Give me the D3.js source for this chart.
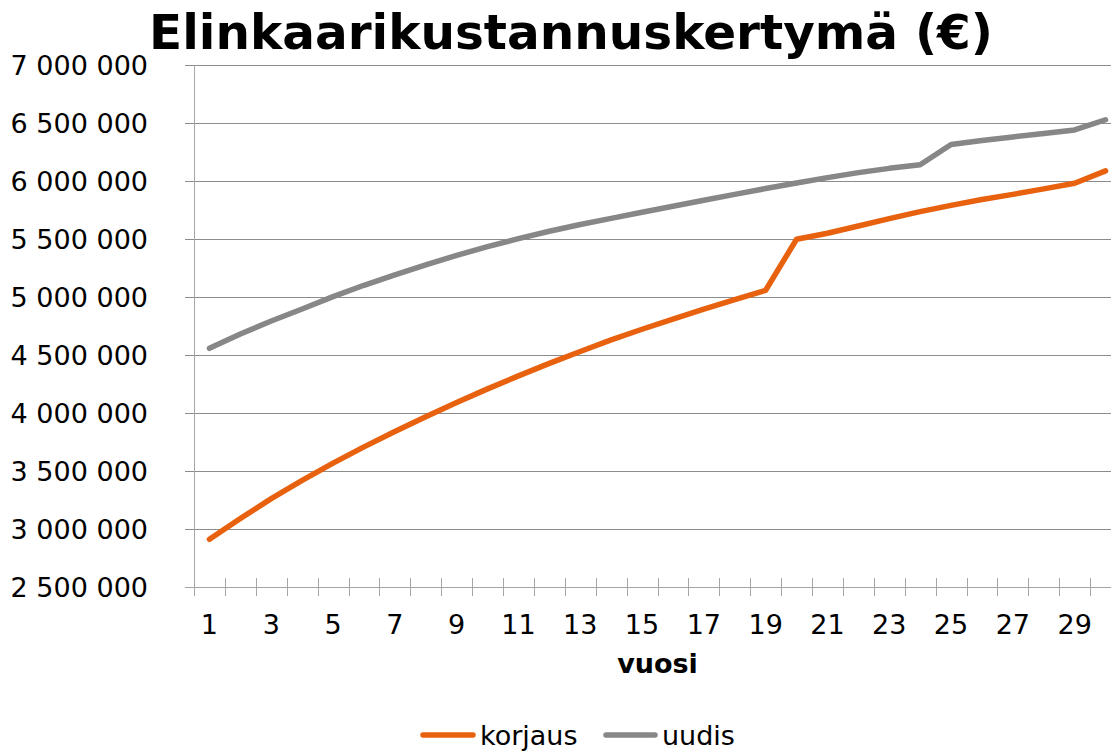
<!DOCTYPE html>
<html>
<head>
<meta charset="utf-8">
<script src="https://cdn.jsdelivr.net/npm/d3@7"></script>
<style>
    body { margin: 0; background: #fff; }
    svg { display: block; font-family: "DejaVu Sans", Verdana, sans-serif; }
</style>
</head>
<body>
<svg id="chart" width="1111" height="751"></svg>
<script>
const years = d3.range(1, 31);
const korjaus = [
    2911000, 3090000, 3262000, 3420000, 3568000, 3708000, 3840000, 3968000, 4090000, 4208000,
    4320000, 4428000, 4530000, 4630000, 4722000, 4810000, 4895000, 4977000, 5058000, 5498000,
    5550000, 5612000, 5676000, 5736000, 5790000, 5840000, 5885000, 5932000, 5980000, 6087000,
];
const uudis = [
    4558000, 4681000, 4793000, 4897000, 5003000, 5101000, 5190000, 5276000, 5359000, 5434000,
    5503000, 5567000, 5625000, 5678000, 5730000, 5782000, 5834000, 5885000, 5935000, 5983000,
    6029000, 6072000, 6109000, 6140000, 6315000, 6350000, 6380000, 6410000, 6440000, 6528000,
];
const yTicks = d3.range(2500000, 7000001, 500000);
const seriesNames = ["korjaus", "uudis"];
const seriesColors = ["#e8610f", "#878787"];

const svg = d3.select("#chart");
const margin = { top: 65, right: -10, bottom: 164, left: 194 };
const width = 1111;
const height = 751;
const plotBottom = height - margin.bottom;

const x = d3.scaleBand()
    .domain(years)
    .range([margin.left, width - margin.right])
    .paddingInner(0)
    .paddingOuter(0);

const y = d3.scaleLinear()
    .domain([2500000, 7000000])
    .range([plotBottom, margin.top]);

const fmt = (v) => d3.format(",")(v).replace(/,/g, " ");

// gridlines + y ticks
svg.append("g")
    .selectAll("line")
    .data(yTicks)
    .enter()
    .append("line")
    .attr("x1", margin.left - 9)
    .attr("x2", width - margin.right)
    .attr("y1", (d) => Math.round(y(d)) + 0.5)
    .attr("y2", (d) => Math.round(y(d)) + 0.5)
    .attr("stroke", (d) => d === 2500000 ? "#a6a6a6" : "#8c8c8c")
    .attr("stroke-width", 1);

// y axis line
svg.append("line")
    .attr("x1", margin.left + 0.5)
    .attr("x2", margin.left + 0.5)
    .attr("y1", margin.top)
    .attr("y2", plotBottom + 9)
    .attr("stroke", "#a6a6a6");

svg.append("g")
    .selectAll("text")
    .data(yTicks)
    .enter()
    .append("text")
    .attr("x", 148)
    .attr("y", (d) => y(d))
    .attr("dy", "0.36em")
    .attr("text-anchor", "end")
    .attr("font-size", 27)
    .attr("fill", "#000")
    .text(fmt);

// x ticks at category boundaries
const boundaries = years.map((d) => x(d)).concat([x.range()[1]]);
svg.append("g")
    .selectAll("line")
    .data(boundaries.slice(1))
    .enter()
    .append("line")
    .attr("x1", (d) => Math.round(d) + 0.5)
    .attr("x2", (d) => Math.round(d) + 0.5)
    .attr("y1", plotBottom - 9)
    .attr("y2", plotBottom + 9)
    .attr("stroke", "#a6a6a6");

svg.append("g")
    .selectAll("text")
    .data(years.filter((d) => d % 2 === 1))
    .enter()
    .append("text")
    .attr("x", (d) => x(d) + x.bandwidth() / 2)
    .attr("y", 634)
    .attr("text-anchor", "middle")
    .attr("font-size", 27)
    .text((d) => d);

svg.append("text")
    .attr("x", (margin.left + width - margin.right) / 2)
    .attr("y", 673)
    .attr("text-anchor", "middle")
    .attr("font-size", 27)
    .attr("font-weight", "bold")
    .text("vuosi");

// lines
const line = d3.line()
    .x((d, i) => x(years[i]) + x.bandwidth() / 2)
    .y((d) => y(d));

[korjaus, uudis].forEach((values, i) => {
    svg.append("path")
        .datum(values)
        .attr("fill", "none")
        .attr("stroke", seriesColors[i])
        .attr("stroke-width", 5.5)
        .attr("stroke-linejoin", "round")
        .attr("stroke-linecap", "round")
        .attr("d", line);
});

// title
svg.append("text")
    .attr("x", 571)
    .attr("y", 49)
    .attr("text-anchor", "middle")
    .attr("font-size", 48.5)
    .attr("font-weight", "bold")
    .text("Elinkaarikustannuskertymä (€)");

// legend
const legendItems = [
    { name: seriesNames[0], color: seriesColors[0], x0: 423, x1: 473, tx: 480 },
    { name: seriesNames[1], color: seriesColors[1], x0: 606, x1: 655, tx: 662 },
];
const legend = svg.append("g");
legendItems.forEach((item) => {
    legend.append("line")
        .attr("x1", item.x0)
        .attr("x2", item.x1)
        .attr("y1", 735)
        .attr("y2", 735)
        .attr("stroke", item.color)
        .attr("stroke-width", 5.5)
        .attr("stroke-linecap", "round");
    legend.append("text")
        .attr("x", item.tx)
        .attr("y", 745)
        .attr("font-size", 27)
        .text(item.name);
});
</script>
</body>
</html>
